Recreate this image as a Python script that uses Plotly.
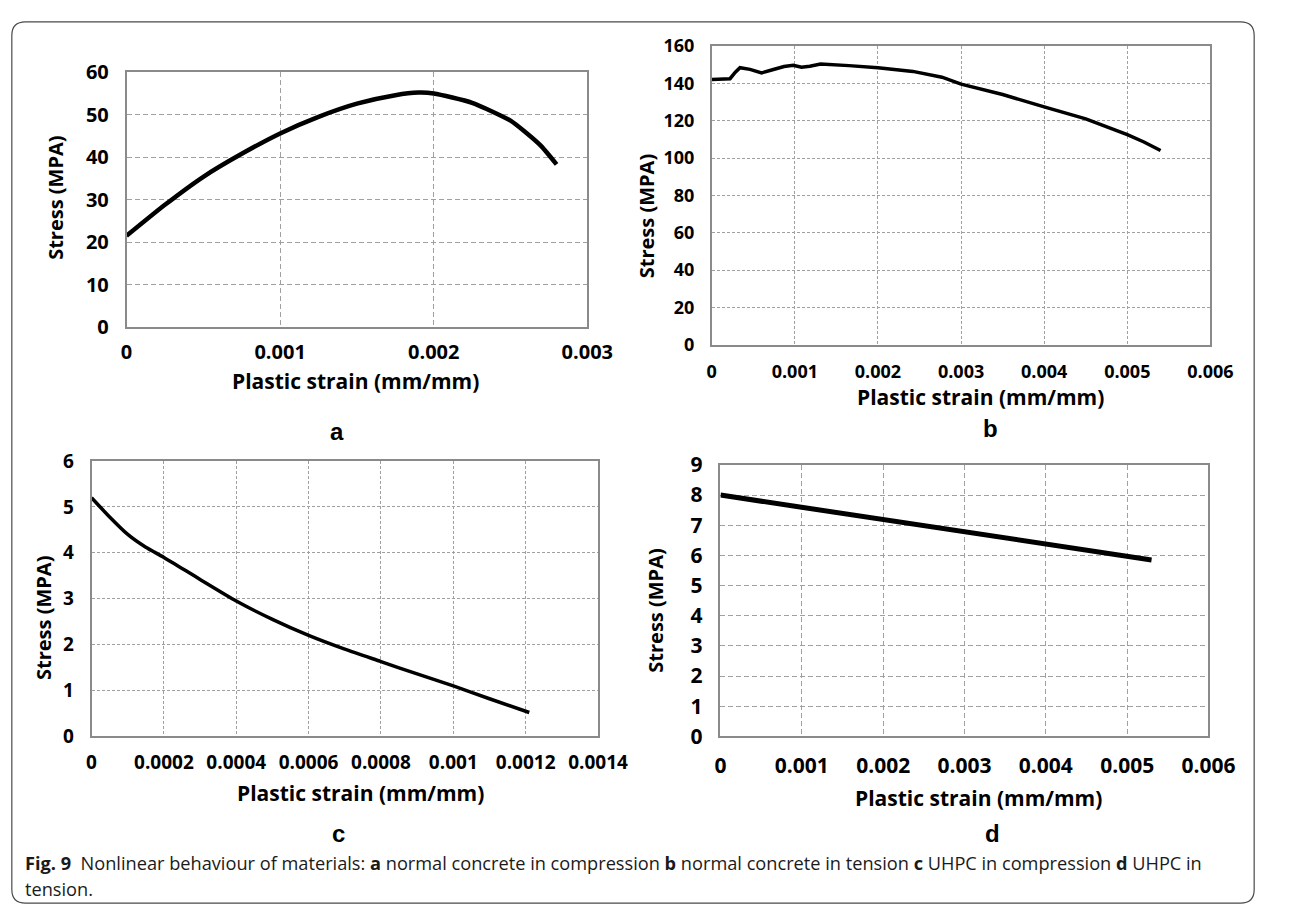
import plotly.graph_objects as go

# ---------------- data ----------------
a_strain = [0, 0.00025, 0.0005, 0.00075, 0.001, 0.00125, 0.0015, 0.00175, 0.0019,
            0.002, 0.00225, 0.0025, 0.0026, 0.0027, 0.0028]
a_stress = [21.5, 28.8, 35.4, 40.8, 45.6, 49.5, 52.6, 54.6, 55.2,
            55.0, 52.8, 48.6, 45.8, 42.6, 38.3]

b_strain = [0, 0.00022, 0.000284, 0.00034, 0.00046, 0.0006, 0.00071, 0.00087, 0.00098,
            0.00108, 0.00118, 0.00131, 0.00165, 0.002, 0.00242, 0.00277, 0.003, 0.0035,
            0.004, 0.0045, 0.005, 0.0052, 0.0054]
b_stress = [142.1, 142.5, 146.0, 148.4, 147.5, 145.6, 147.0, 149.0, 149.7,
            148.6, 149.2, 150.3, 149.5, 148.4, 146.4, 143.3, 139.6, 134.0,
            127.4, 121.0, 112.5, 108.6, 104.0]

c_strain = [0, 0.00005, 0.0001, 0.00015, 0.0002, 0.0003, 0.0004, 0.0005, 0.0006,
            0.0007, 0.0008, 0.0009, 0.001, 0.0011, 0.00121]
c_stress = [5.2, 4.78, 4.4, 4.12, 3.9, 3.42, 2.95, 2.55, 2.2,
            1.9, 1.63, 1.36, 1.1, 0.82, 0.52]

d_strain = [0, 0.001, 0.002, 0.003, 0.004, 0.005, 0.0053]
d_stress = [8.0, 7.6, 7.2, 6.78, 6.37, 5.97, 5.85]

a_xticks = [0, 0.001, 0.002, 0.003]
a_xlabels = ["0", "0.001", "0.002", "0.003"]
a_yticks = [0, 10, 20, 30, 40, 50, 60]

b_xticks = [0, 0.001, 0.002, 0.003, 0.004, 0.005, 0.006]
b_xlabels = ["0", "0.001", "0.002", "0.003", "0.004", "0.005", "0.006"]
b_yticks = [0, 20, 40, 60, 80, 100, 120, 140, 160]

c_xticks = [0, 0.0002, 0.0004, 0.0006, 0.0008, 0.001, 0.0012, 0.0014]
c_xlabels = ["0", "0.0002", "0.0004", "0.0006", "0.0008", "0.001", "0.0012", "0.0014"]
c_yticks = [0, 1, 2, 3, 4, 5, 6]

d_xticks = [0, 0.001, 0.002, 0.003, 0.004, 0.005, 0.006]
d_xlabels = ["0", "0.001", "0.002", "0.003", "0.004", "0.005", "0.006"]
d_yticks = [0, 1, 2, 3, 4, 5, 6, 7, 8, 9]

x_title = "Plastic strain (mm/mm)"
y_title = "Stress (MPA)"
panel_letters = ["a", "b", "c", "d"]
caption_1 = ("<b>Fig. 9</b>  Nonlinear behaviour of materials: <b>a</b> normal concrete in compression "
             "<b>b</b> normal concrete in tension <b>c</b> UHPC in compression <b>d</b> UHPC in")
caption_2 = "tension."

# ---------------- layout helpers ----------------
W, H = 1290, 921
def px(x):
    return x / W
def py(y):
    return 1 - y / H

FONT = "Open Sans"

fig = go.Figure()

panels = [
    # (strain, stress, xticks, xlabels, yticks, xrange, yrange, box(l,r,t,b), linew, shape, dash, tickfs, xstandoff)
    (a_strain, a_stress, a_xticks, a_xlabels, a_yticks, [0, 0.003], [0, 60], (124, 598, 59, 322), 4.5, "spline", "5px,3px", 20, 6),
    (b_strain, b_stress, b_xticks, b_xlabels, b_yticks, [0, 0.006], [0, 160], (726, 1239, 32, 340), 3.5, "linear", "3px,2px", 18, 10),
    (c_strain, c_stress, c_xticks, c_xlabels, c_yticks, [0, 0.0014], [0, 6], (88, 609, 460, 744), 3.5, "spline", "3px,2px", 19, 8),
    (d_strain, d_stress, d_xticks, d_xlabels, d_yticks, [0, 0.006], [0, 9], (735, 1237, 464, 744), 5, "linear", "5px,3px", 21, 10),
]

for i, (xs, ys, xt, xl, yt, xr, yr, box, lw, shp, dash, tfs, xso) in enumerate(panels):
    n = "" if i == 0 else str(i + 1)
    l, r, t, b = box
    fig.add_trace(go.Scatter(x=xs, y=ys, mode="lines", xaxis="x" + n, yaxis="y" + n,
                             line=dict(color="black", width=lw, shape=shp, smoothing=0.6),
                             showlegend=False, hoverinfo="skip"))
    common = dict(showline=True, mirror=True, linecolor="#8a8a8a", linewidth=1.5,
                  showgrid=True, gridcolor="#a0a0a0", gridwidth=1, griddash=dash,
                  zeroline=False, ticks="",
                  tickfont=dict(family=FONT, size=tfs, color="black", weight="bold"))
    fig.update_layout(**{
        "xaxis" + n: dict(domain=[px(l), px(r)], range=xr, tickvals=xt, ticktext=xl,
                          anchor="y" + n, ticklabelstandoff=xso, **common),
        "yaxis" + n: dict(domain=[py(b), py(t)], range=yr, tickvals=yt,
                          anchor="x" + n, ticklabelstandoff=12, **common),
    })

annots = []
# x titles: (cx, cy)
for cx, cy in [(360, 377), (1002, 394), (365, 802), (1000, 808)]:
    annots.append(dict(x=px(cx), y=py(cy), text=x_title, showarrow=False,
                       font=dict(family=FONT, size=21, color="black", weight="bold"),
                       xanchor="center", yanchor="middle", xref="paper", yref="paper"))
# y titles
for cx, cy in [(51, 189), (659, 208), (38, 622), (668, 614)]:
    annots.append(dict(x=px(cx), y=py(cy), text=y_title, showarrow=False, textangle=-90,
                       font=dict(family=FONT, size=20, color="black", weight="bold"),
                       xanchor="center", yanchor="middle", xref="paper", yref="paper"))
# panel letters
for letter, (cx, cy) in zip(panel_letters, [(340, 430), (1013, 426), (342, 844), (1015, 844)]):
    annots.append(dict(x=px(cx), y=py(cy), text=letter, showarrow=False,
                       font=dict(family="Liberation Sans", size=24, color="black", weight="bold"),
                       xanchor="center", yanchor="middle", xref="paper", yref="paper"))
# caption
annots.append(dict(x=px(18), y=py(875), text=caption_1, showarrow=False,
                   font=dict(family=FONT, size=18.2, color="#1a1a1a"),
                   xanchor="left", yanchor="middle", xref="paper", yref="paper"))
annots.append(dict(x=px(18), y=py(901), text=caption_2, showarrow=False,
                   font=dict(family=FONT, size=18.2, color="#1a1a1a"),
                   xanchor="left", yanchor="middle", xref="paper", yref="paper"))

# rounded frame
x0, x1, y0, y1, rr = 6, 1284, 7, 916, 14
path = (f"M {px(x0 + rr)},{py(y0)} L {px(x1 - rr)},{py(y0)} Q {px(x1)},{py(y0)} {px(x1)},{py(y0 + rr)} "
        f"L {px(x1)},{py(y1 - rr)} Q {px(x1)},{py(y1)} {px(x1 - rr)},{py(y1)} "
        f"L {px(x0 + rr)},{py(y1)} Q {px(x0)},{py(y1)} {px(x0)},{py(y1 - rr)} "
        f"L {px(x0)},{py(y0 + rr)} Q {px(x0)},{py(y0)} {px(x0 + rr)},{py(y0)} Z")

fig.update_layout(
    width=W, height=H, margin=dict(l=0, r=0, t=0, b=0),
    paper_bgcolor="white", plot_bgcolor="white",
    annotations=annots,
    shapes=[dict(type="path", path=path, xref="paper", yref="paper",
                 line=dict(color="#4a4a4a", width=1.2), layer="below")],
    showlegend=False,
)

fig.write_html("out.html")
